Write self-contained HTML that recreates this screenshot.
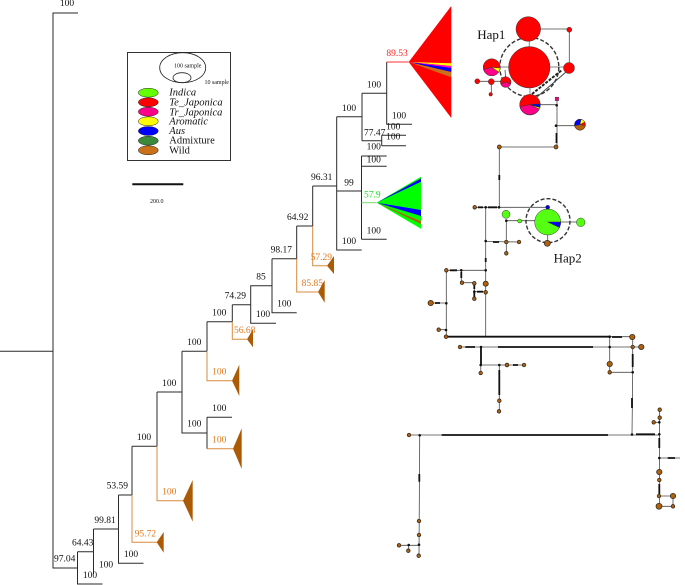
<!DOCTYPE html>
<html><head><meta charset="utf-8"><style>
html,body{margin:0;padding:0;background:#fff;width:685px;height:585px;overflow:hidden}
svg{display:block}
text{font-family:"Liberation Serif",serif;fill:#111}
.lb text{font-size:9.5px;text-anchor:middle}
.or text{fill:#e07a1f}
.t{fill:none;stroke:#2a2a2a;stroke-width:1}
.o{fill:none;stroke:#d98a3c;stroke-width:1}
.n{fill:none;stroke:#4a4a4a;stroke-width:.8}
.k{fill:none;stroke:#111;stroke-width:1.8}
.b circle{fill:#b0600a;stroke:#222;stroke-width:.7}
.d circle{fill:#111}
.g{stroke:#8a8a8a;stroke-width:1;fill:none}
.s{stroke:#222;stroke-width:.5}
</style></head><body>
<svg width="685" height="585" viewBox="0 0 685 585" xmlns="http://www.w3.org/2000/svg">
<!-- tree -->
<path class="t" d="M0 351.3H53M78 13H53V568H77.5M77.5 551.7V584H102.5M77.5 551.7H93.5M93.5 529V574M93.5 529H118.5M118.5 495V563.3H143.5M118.5 495H132M132 446.3V495M132 446.3H157M157 392V446.3M157 392H182M182 351.3V433H207M207 417.3V448.7M207 417.3H232M182 351.3H207M207 321.7V351.3M207 321.7H232.3M232.3 304.7V321.7M232.3 304.7H250.7M250.7 285.7V323.3H276M250.3 285.7H272M272 258.7V312.7H296.7M272 258.7H296.7M296.7 226V258.7M296.7 226H312.7M312.7 186V226M312.7 186H336.7M336.7 116.7V250H361.7M336.7 116.7H362M337 191H361.5M361.5 156V239.3M361.5 156H386.7M361.5 166.3H386.7M361.5 239.3H386.7M362 93.3V140.7M362 93.3H386.7M386.7 62V124.3H412M362 140.7H381.7M381.7 135.3V145.7M381.7 135.3H406M381.7 145.7H406"/>
<path class="o" d="M132 495V542.3H157M157 446.3V500.7H183M207 448.7H233M207 351.3V380.7H232M232.3 321.7V339.3H247M296.7 258.7V292H318M312.7 226V265.7H327"/>
<path d="M361.5 202.7H376.7" stroke="#6fdc6f" stroke-width="1" fill="none"/>
<path d="M386.7 62H408.7" stroke="#f33" stroke-width="1" fill="none"/>
<g fill="#ab5b05">
<polygon points="156.7,542.3 163.7,532 163.7,552.7"/>
<polygon points="183,500.7 192.7,480 192.7,521.7"/>
<polygon points="233,448.7 241.7,428.3 241.7,469"/>
<polygon points="232,380.7 239.3,364.7 239.3,396"/>
<polygon points="247,339.3 253,329.3 253,347.3"/>
<polygon points="318,292 324.7,280 324.7,302.7"/>
<polygon points="327,265.7 334,256 334,274"/>
</g>
<polygon points="408.7,62 451.3,6 451.3,118" fill="#f00"/>
<polygon points="408.7,62 451.3,63.3 451.3,66" fill="#ff0"/>
<polygon points="408.7,62 451.3,66 451.3,68" fill="#f0c"/>
<polygon points="408.7,62 451.3,68 451.3,72" fill="#00f"/>
<polygon points="408.7,62 451.3,72 451.3,77.3" fill="#c8701a"/>
<polygon points="376.7,202.7 421,176.7 421,228.7" fill="#0f0"/>
<polygon points="376.7,202.7 421,178.5 421,181.7" fill="#00f"/>
<polygon points="376.7,202.7 421,210 421,216" fill="#00f"/>
<polygon points="376.7,202.7 421,221.3 421,224" fill="#b5620a"/>
<g class="lb">
<text x="67" y="6">100</text>
<text x="64.7" y="561.7">97.04</text><text x="82.7" y="545.3">64.43</text><text x="90" y="578">100</text>
<text x="106" y="567.7">100</text><text x="105" y="523">99.81</text><text x="117.3" y="488.3">53.59</text>
<text x="131" y="557">100</text><text x="144" y="440">100</text><text x="169.3" y="386">100</text>
<text x="194.3" y="345">100</text><text x="194.3" y="426.7">100</text><text x="219.3" y="315.7">100</text>
<text x="219.3" y="411">100</text><text x="235.3" y="298.3">74.29</text><text x="263" y="317">100</text>
<text x="284.3" y="306.3">100</text><text x="261" y="279.7">85</text><text x="281.3" y="252.7">98.17</text>
<text x="297.7" y="220">64.92</text><text x="321.7" y="180">96.31</text><text x="349" y="244">100</text>
<text x="349" y="185.3">99</text><text x="349" y="111">100</text><text x="373.7" y="233.3">100</text>
<text x="373.7" y="162.7">100</text><text x="373.7" y="149.7">100</text><text x="374.7" y="135.3">77.47</text>
<text x="374" y="87.3">100</text><text x="399" y="118.7">100</text><text x="393.3" y="129.3">100</text><text x="393.3" y="139.7">100</text>
<g class="or">
<text x="145.3" y="536.7">95.72</text><text x="169.3" y="494.7">100</text><text x="219.3" y="374.7">100</text>
<text x="219.3" y="442.3">100</text><text x="244.7" y="333">56.68</text><text x="312.3" y="286">85.85</text><text x="321.3" y="260">57.29</text>
</g>
<text x="372.3" y="197.3" style="fill:#22e022">57.9</text>
<text x="397" y="56" style="fill:#f22">89.53</text>
</g>
<!-- legend -->
<rect x="127.5" y="52.5" width="103" height="108" fill="#fff" stroke="#333" stroke-width="1"/>
<ellipse cx="182.7" cy="67.7" rx="23" ry="15" fill="none" stroke="#222" stroke-width=".8"/>
<ellipse cx="182" cy="77.7" rx="9" ry="5" fill="none" stroke="#222" stroke-width=".8"/>
<text x="187.7" y="67.5" font-size="6" text-anchor="middle">100 sample</text>
<text x="216.7" y="84" font-size="6" text-anchor="middle">10 sample</text>
<g class="s">
<ellipse cx="148.3" cy="92.7" rx="10" ry="4.5" fill="#6f0"/>
<ellipse cx="148.3" cy="102.3" rx="10" ry="4.5" fill="#f00"/>
<ellipse cx="148.3" cy="111.7" rx="10" ry="4.5" fill="#f08"/>
<ellipse cx="148.3" cy="121.3" rx="10" ry="4.5" fill="#ff0"/>
<ellipse cx="148.3" cy="131" rx="10" ry="4.5" fill="#00f"/>
<ellipse cx="148.3" cy="140.7" rx="10" ry="4.5" fill="#3a8a3a"/>
<ellipse cx="148.3" cy="150.3" rx="10" ry="4.5" fill="#c8701a"/>
</g>
<g font-size="10.5">
<text x="169.3" y="95.7" font-style="italic">Indica</text>
<text x="169.3" y="105.3" font-style="italic">Te_Japonica</text>
<text x="169.3" y="115.7" font-style="italic">Tr_Japonica</text>
<text x="169.3" y="124.3" font-style="italic">Aromatic</text>
<text x="169.3" y="134" font-style="italic">Aus</text>
<text x="169.3" y="143.3">Admixture</text>
<text x="169.3" y="153.3">Wild</text>
</g>
<path d="M132.3 184.3H183.3" stroke="#111" stroke-width="2"/>
<text x="156.7" y="203" font-size="6" text-anchor="middle">200.0</text>
<!-- network links -->
<path class="g" d="M529.3 29V67M529.3 67H569M529.3 67H492M530 67V104"/>
<path class="n" d="M528 29H569.3V68M477.3 81.3H505.7M491.3 81.7V94.3M505 70L506 82M530 104.7H556.7M557 99V147M556 125.7H580M556 147H499.3V207.3M474.7 207.3H547.7M485.7 207.3V336.7M506.3 220.7H547.7M506.3 220.7V253.3M485.7 241.5L519 242M547.7 222H580.7M547.7 222V243.3M446.3 270.3H485.7M461.3 270.3V282.7H474.3V298.7M474.3 291.7H485.7V270.3M446.3 270.3V336.7M430.7 303H446.3M438.7 329.7H446M609.7 336.7H632.3M460 347H632.7H641.3M609.7 336.7V372.3H632.7M632.7 337V372.3L632 434.7M480.8 347V373M480.7 365H524M499.3 365V411.3M409 435H659.3M659.5 409.7V506.3M653.7 422.3H659.3M659.3 458H680M659 496H673V506.3H659M419.7 435L419 555.7M399 545.3H419M408.7 545V550.7"/>
<path class="k" d="M556.5 133V143M499.3 175V180M446 336.7H609.7M612 337H622M465.3 347H475M498 347H593M481 347V365M513 365H518M499.3 370V395M632.7 354V367M632 398V408M441.7 435H608M636 434.3H655M667.7 458H675M659.3 438V448M659.3 484V494M419.3 474V481.7M450 270.3H457M493 242H499M435 303H440M478 207.3H483M488 207.3H497M477 291.7H483M474.3 284V289M474.3 293V297M461.3 272V278M485.7 258V262"/>
<path d="M532 94L562 70" stroke="#222" stroke-width="2" stroke-dasharray="3 1.3" fill="none"/>
<path d="M537 97L566 72" stroke="#444" stroke-width="1" fill="none"/>
<!-- pies Hap1 -->
<circle cx="529.3" cy="67" r="29.5" fill="none" stroke="#333" stroke-width="1.4" stroke-dasharray="4 2"/>
<g stroke="#333" stroke-width=".5">
<circle cx="528.3" cy="29" r="12.3" fill="#f00"/>
<circle cx="529.3" cy="67.3" r="20.7" fill="#f00"/>
<circle cx="569" cy="68" r="5.5" fill="#f00"/>
<circle cx="569.3" cy="29.7" r="2.5" fill="#f00"/>
<circle cx="477.3" cy="81.3" r="2.5" fill="#f00"/>
<circle cx="491.3" cy="81.7" r="3" fill="#f00"/>
<circle cx="490.7" cy="94.3" r="1.8" fill="#f00"/>
<circle cx="491.7" cy="67.3" r="8.5" fill="#f00"/>
<path d="M491.7 67.3L500.2 68A8.5 8.5 0 0 1 498.7 72.2Z" fill="#ff0"/>
<path d="M491.7 67.3L498.7 72.2A8.5 8.5 0 0 1 483.5 69.5Z" fill="#f08"/>
<circle cx="505.7" cy="82" r="5.3" fill="#f00"/>
<path d="M505.7 82L510.7 83.8A5.3 5.3 0 0 1 500.7 83.8Z" fill="#f08"/>
<circle cx="530" cy="104.7" r="10.3" fill="#f00"/>
<path d="M530 104.7L539.3 109A10.3 10.3 0 0 1 519.9 106.5Z" fill="#f08"/>
<path d="M530 104.7L540 107.4A10.3 10.3 0 0 1 539.3 109Z" fill="#ff0"/>
<path d="M530 104.7L540.3 103.8A10.3 10.3 0 0 1 540 107.4Z" fill="#00f"/>
<rect x="555.2" y="97.2" width="3.4" height="3.4" fill="#f08"/>
<circle cx="580" cy="124.7" r="5.5" fill="#f00"/>
<path d="M580 124.7L585.4 125.65A5.5 5.5 0 0 1 574.6 125.65Z" fill="#b5620a"/>
<path d="M580 124.7L574.6 125.65A5.5 5.5 0 0 1 581 119.3Z" fill="#00f"/>
<path d="M580 124.7L581 119.3A5.5 5.5 0 0 1 584.8 122Z" fill="#ff0"/>
<!-- pies Hap2 -->
<circle cx="506" cy="214.3" r="4" fill="#5f1"/>
<circle cx="519.7" cy="221" r="2" fill="#5f1"/>
<circle cx="547.7" cy="222" r="13" fill="#5f1"/>
<path d="M547.7 222L560.7 222A13 13 0 0 1 559.5 227.5Z" fill="#00f"/>
<circle cx="580.7" cy="222.3" r="4.3" fill="#5f1"/>
<circle cx="547.7" cy="207.3" r="2" fill="#00d"/>
</g>
<circle cx="548" cy="220.7" r="22" fill="none" stroke="#333" stroke-width="1.4" stroke-dasharray="4 2"/>
<g class="b">
<circle cx="556" cy="147" r="2"/><circle cx="499.3" cy="147" r="2"/>
<circle cx="547.3" cy="243.3" r="3"/><circle cx="474.7" cy="207.3" r="1.8"/>
<circle cx="519" cy="242" r="1.8"/><circle cx="506.3" cy="242" r="1.8"/><circle cx="506.3" cy="253.3" r="1.8"/>
<circle cx="446.3" cy="270.3" r="1.8"/><circle cx="462" cy="282.7" r="1.8"/><circle cx="474.3" cy="283.3" r="1.8"/>
<circle cx="485.7" cy="283.7" r="2.6"/><circle cx="485.7" cy="292.3" r="1.8"/><circle cx="474.3" cy="298.7" r="1.8"/>
<circle cx="430.7" cy="303" r="2.7"/><circle cx="446" cy="336.7" r="1.8"/><circle cx="438.7" cy="329.7" r="1.8"/>
<circle cx="632.3" cy="337" r="2.7"/><circle cx="460" cy="347" r="1.8"/><circle cx="632.7" cy="347" r="1.8"/>
<circle cx="641.3" cy="347" r="2.7"/><circle cx="609.7" cy="364" r="2.7"/><circle cx="609.7" cy="372.3" r="1.8"/>
<circle cx="480.7" cy="373" r="1.8"/><circle cx="507" cy="365" r="1.9"/><circle cx="524" cy="365" r="1.8"/>
<circle cx="499.3" cy="400.7" r="1.8"/><circle cx="499" cy="411.3" r="1.8"/><circle cx="409" cy="435" r="1.8"/>
<circle cx="659.7" cy="409.7" r="1.8"/><circle cx="659.7" cy="417.7" r="1.8"/><circle cx="653.7" cy="422.3" r="1.8"/>
<circle cx="659.3" cy="472" r="2.7"/><circle cx="659.3" cy="480" r="1.8"/><circle cx="659" cy="496" r="1.8"/>
<circle cx="673" cy="496" r="2.7"/><circle cx="659" cy="506.3" r="3"/><circle cx="673" cy="506.3" r="1.8"/>
<circle cx="419" cy="521" r="1.8"/><circle cx="419" cy="535" r="1.8"/><circle cx="418.7" cy="555.7" r="1.8"/>
<circle cx="399" cy="545.3" r="1.8"/><circle cx="408.3" cy="550.7" r="1.8"/>
</g>
<g class="d">
<circle cx="556.7" cy="105.3" r="1.3"/><circle cx="556" cy="125.7" r="1.3"/><circle cx="485.7" cy="207.3" r="1.3"/>
<circle cx="499" cy="207.3" r="1.3"/><circle cx="506.3" cy="220.7" r="1.3"/><circle cx="485.7" cy="241" r="1.3"/>
<circle cx="461.3" cy="270.3" r="1.3"/><circle cx="485.7" cy="270.3" r="1.3"/><circle cx="474.3" cy="291.7" r="1.3"/>
<circle cx="446.3" cy="303.3" r="1.3"/><circle cx="446" cy="330" r="1.3"/><circle cx="609.7" cy="336.7" r="1.3"/>
<circle cx="609.7" cy="347" r="1.3"/><circle cx="481" cy="347" r="1.3"/><circle cx="632.7" cy="372.3" r="1.3"/>
<circle cx="480.7" cy="365" r="1.3"/><circle cx="499.3" cy="365" r="1.3"/><circle cx="632" cy="434.5" r="1.3"/>
<circle cx="419.7" cy="435.3" r="1.3"/><circle cx="659.3" cy="434.3" r="1.3"/><circle cx="659.3" cy="422.3" r="1.3"/>
<circle cx="659.3" cy="458" r="1.3"/><circle cx="419" cy="544.7" r="1.3"/><circle cx="408.7" cy="545" r="1.3"/>
</g>
<text x="491.3" y="39" font-size="13" text-anchor="middle">Hap1</text>
<text x="567.7" y="262.5" font-size="13" text-anchor="middle">Hap2</text>
</svg>
</body></html>
